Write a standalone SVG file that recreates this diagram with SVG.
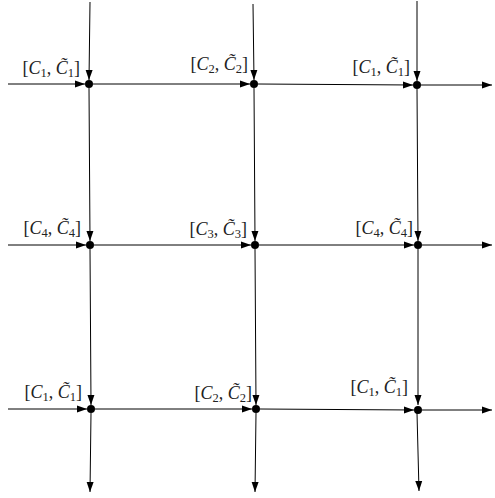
<svg xmlns="http://www.w3.org/2000/svg" width="495" height="498" viewBox="0 0 495 498">
<style>
.e{stroke:#000;stroke-width:1;fill:none;marker-end:url(#ah)}
.d{fill:#000}
.l{font-family:"Liberation Serif","DejaVu Serif",serif;font-size:18px;fill:#222;text-anchor:end}
.i{font-style:italic}
.s{font-size:12.5px}
</style>
<defs>
<marker id="ah" markerUnits="userSpaceOnUse" markerWidth="10" markerHeight="8" refX="10" refY="4" orient="auto">
<path d="M0,0.5 L10,4 L0,7.5 z" fill="#000"/>
</marker>
</defs>
<rect width="495" height="498" fill="#fff"/>
<g id="connectors">
<line class="e" x1="90" y1="2" x2="89" y2="80"/>
<line class="e" x1="89" y1="88" x2="90" y2="241"/>
<line class="e" x1="90" y1="249" x2="91" y2="405"/>
<line class="e" x1="91" y1="413" x2="90" y2="492"/>
<line class="e" x1="253" y1="4" x2="254" y2="80"/>
<line class="e" x1="254" y1="88" x2="255" y2="241"/>
<line class="e" x1="255" y1="249" x2="256" y2="405"/>
<line class="e" x1="256" y1="413" x2="255" y2="492"/>
<line class="e" x1="417" y1="1" x2="417" y2="81"/>
<line class="e" x1="417" y1="89" x2="418" y2="241"/>
<line class="e" x1="418" y1="249" x2="418" y2="405"/>
<line class="e" x1="417" y1="413" x2="419" y2="491"/>
<line class="e" x1="8" y1="84" x2="85" y2="84"/>
<line class="e" x1="93" y1="84" x2="250" y2="84"/>
<line class="e" x1="258" y1="84" x2="413" y2="85"/>
<line class="e" x1="421" y1="85" x2="492" y2="85"/>
<line class="e" x1="8" y1="245" x2="86" y2="245"/>
<line class="e" x1="94" y1="245" x2="251" y2="245"/>
<line class="e" x1="259" y1="245" x2="414" y2="245"/>
<line class="e" x1="422" y1="245" x2="492" y2="245"/>
<line class="e" x1="8" y1="409" x2="87" y2="409"/>
<line class="e" x1="95" y1="409" x2="252" y2="409"/>
<line class="e" x1="260" y1="409" x2="414" y2="410"/>
<line class="e" x1="422" y1="410" x2="492" y2="410"/>
</g>
<g id="n11"><circle class="d" cx="89" cy="84" r="4"/><text class="l" x="80" y="74">[<tspan class="i">C</tspan><tspan class="s" dy="3">1</tspan><tspan dy="-3">, </tspan><tspan class="i">C̃</tspan><tspan class="s" dy="3">1</tspan><tspan dy="-3">]</tspan></text></g>
<g id="n12"><circle class="d" cx="254" cy="84" r="4"/><text class="l" x="248" y="70">[<tspan class="i">C</tspan><tspan class="s" dy="3">2</tspan><tspan dy="-3">, </tspan><tspan class="i">C̃</tspan><tspan class="s" dy="3">2</tspan><tspan dy="-3">]</tspan></text></g>
<g id="n13"><circle class="d" cx="417" cy="85" r="4"/><text class="l" x="410" y="73">[<tspan class="i">C</tspan><tspan class="s" dy="3">1</tspan><tspan dy="-3">, </tspan><tspan class="i">C̃</tspan><tspan class="s" dy="3">1</tspan><tspan dy="-3">]</tspan></text></g>
<g id="n21"><circle class="d" cx="90" cy="245" r="4"/><text class="l" x="81" y="234">[<tspan class="i">C</tspan><tspan class="s" dy="3">4</tspan><tspan dy="-3">, </tspan><tspan class="i">C̃</tspan><tspan class="s" dy="3">4</tspan><tspan dy="-3">]</tspan></text></g>
<g id="n22"><circle class="d" cx="255" cy="245" r="4"/><text class="l" x="247" y="235">[<tspan class="i">C</tspan><tspan class="s" dy="3">3</tspan><tspan dy="-3">, </tspan><tspan class="i">C̃</tspan><tspan class="s" dy="3">3</tspan><tspan dy="-3">]</tspan></text></g>
<g id="n23"><circle class="d" cx="418" cy="245" r="4"/><text class="l" x="413" y="234">[<tspan class="i">C</tspan><tspan class="s" dy="3">4</tspan><tspan dy="-3">, </tspan><tspan class="i">C̃</tspan><tspan class="s" dy="3">4</tspan><tspan dy="-3">]</tspan></text></g>
<g id="n31"><circle class="d" cx="91" cy="409" r="4"/><text class="l" x="82" y="398">[<tspan class="i">C</tspan><tspan class="s" dy="3">1</tspan><tspan dy="-3">, </tspan><tspan class="i">C̃</tspan><tspan class="s" dy="3">1</tspan><tspan dy="-3">]</tspan></text></g>
<g id="n32"><circle class="d" cx="256" cy="409" r="4"/><text class="l" x="252" y="399">[<tspan class="i">C</tspan><tspan class="s" dy="3">2</tspan><tspan dy="-3">, </tspan><tspan class="i">C̃</tspan><tspan class="s" dy="3">2</tspan><tspan dy="-3">]</tspan></text></g>
<g id="n33"><circle class="d" cx="418" cy="410" r="4"/><text class="l" x="408" y="393">[<tspan class="i">C</tspan><tspan class="s" dy="3">1</tspan><tspan dy="-3">, </tspan><tspan class="i">C̃</tspan><tspan class="s" dy="3">1</tspan><tspan dy="-3">]</tspan></text></g>
</svg>
